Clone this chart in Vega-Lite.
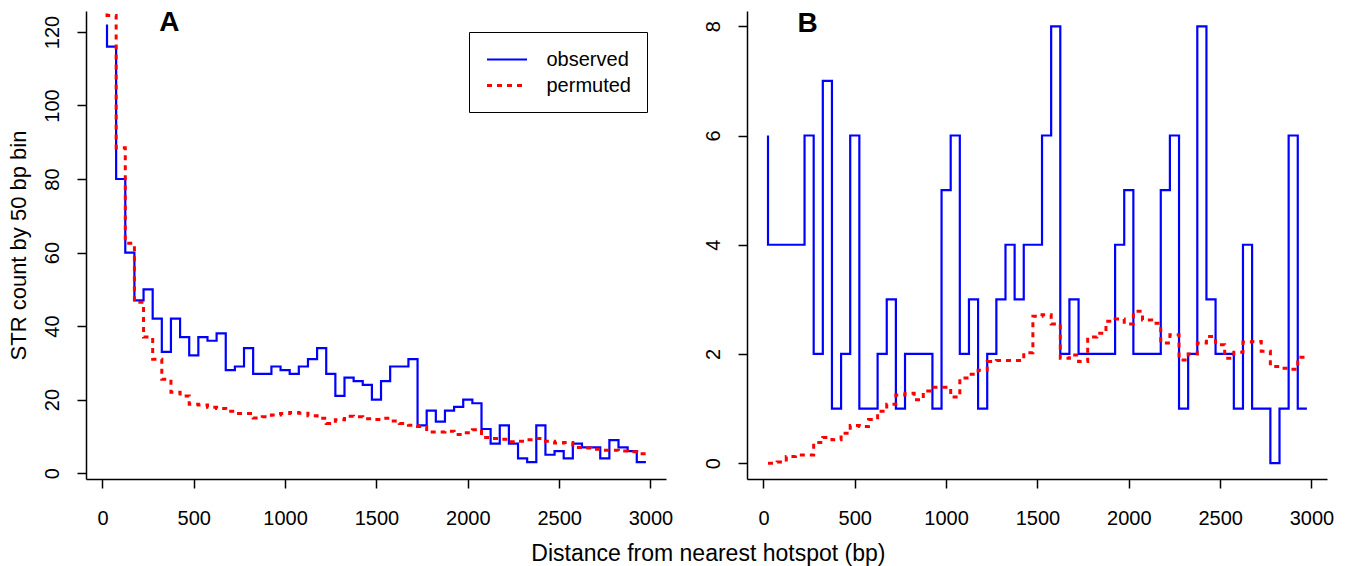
{
  "$schema": "https://vega.github.io/schema/vega-lite/v6.json",
  "background": "white",
  "padding": {"left": 7, "top": 7, "right": 5, "bottom": 5},
  "datasets": {
    "a": [
      {"x":25,"observed":122,"permuted":125},{"x":75,"observed":116,"permuted":124.5},{"x":125,"observed":80,"permuted":88.5},{"x":175,"observed":60,"permuted":62.5},{"x":225,"observed":47,"permuted":46.5},
      {"x":275,"observed":50,"permuted":37},{"x":325,"observed":42,"permuted":31},{"x":375,"observed":33,"permuted":25.5},{"x":425,"observed":42,"permuted":22},{"x":475,"observed":37,"permuted":21},
      {"x":525,"observed":32,"permuted":18.7},{"x":575,"observed":37,"permuted":18.5},{"x":625,"observed":36,"permuted":17.9},{"x":675,"observed":38,"permuted":17.6},{"x":725,"observed":28,"permuted":16.8},
      {"x":775,"observed":29,"permuted":16.2},{"x":825,"observed":34,"permuted":16.2},{"x":875,"observed":27,"permuted":15},{"x":925,"observed":27,"permuted":15.3},{"x":975,"observed":29,"permuted":15.8},
      {"x":1025,"observed":28,"permuted":16.2},{"x":1075,"observed":27,"permuted":16.5},{"x":1125,"observed":29,"permuted":16.3},{"x":1175,"observed":31,"permuted":15.6},{"x":1225,"observed":34,"permuted":14.9},
      {"x":1275,"observed":27,"permuted":13.5},{"x":1325,"observed":21,"permuted":14.5},{"x":1375,"observed":26,"permuted":15.5},{"x":1425,"observed":25,"permuted":15.3},{"x":1475,"observed":24,"permuted":14.8},
      {"x":1525,"observed":20,"permuted":14.6},{"x":1575,"observed":25,"permuted":14.9},{"x":1625,"observed":29,"permuted":14.2},{"x":1675,"observed":29,"permuted":13.5},{"x":1725,"observed":31,"permuted":13.0},
      {"x":1775,"observed":13,"permuted":12.7},{"x":1825,"observed":17,"permuted":11.2},{"x":1875,"observed":14,"permuted":11.2},{"x":1925,"observed":17,"permuted":11.4},{"x":1975,"observed":18,"permuted":10.5},
      {"x":2025,"observed":20,"permuted":11.0},{"x":2075,"observed":19,"permuted":11.8},{"x":2125,"observed":12,"permuted":9.7},{"x":2175,"observed":8,"permuted":9.4},{"x":2225,"observed":13,"permuted":9.2},
      {"x":2275,"observed":8,"permuted":8.5},{"x":2325,"observed":4,"permuted":8.7},{"x":2375,"observed":3,"permuted":9.1},{"x":2425,"observed":13,"permuted":9.4},{"x":2475,"observed":5,"permuted":8.7},
      {"x":2525,"observed":6,"permuted":8.2},{"x":2575,"observed":4,"permuted":8.3},{"x":2625,"observed":8,"permuted":7.0},{"x":2675,"observed":7,"permuted":6.8},{"x":2725,"observed":7,"permuted":6.5},
      {"x":2775,"observed":4,"permuted":6.2},{"x":2825,"observed":9,"permuted":6.2},{"x":2875,"observed":7,"permuted":6.0},{"x":2925,"observed":6,"permuted":5.8},{"x":2975,"observed":3,"permuted":5.3}
    ],
    "b": [
      {"x":25,"observed":6,"permuted":0},{"x":75,"observed":4,"permuted":0},{"x":125,"observed":4,"permuted":0.02},{"x":175,"observed":4,"permuted":0.12},{"x":225,"observed":4,"permuted":0.15},
      {"x":275,"observed":6,"permuted":0.15},{"x":325,"observed":2,"permuted":0.38},{"x":375,"observed":7,"permuted":0.47},{"x":425,"observed":1,"permuted":0.43},{"x":475,"observed":2,"permuted":0.55},
      {"x":525,"observed":6,"permuted":0.69},{"x":575,"observed":1,"permuted":0.67},{"x":625,"observed":1,"permuted":0.8},{"x":675,"observed":2,"permuted":0.95},{"x":725,"observed":3,"permuted":1.08},
      {"x":775,"observed":1,"permuted":1.25},{"x":825,"observed":2,"permuted":1.28},{"x":875,"observed":2,"permuted":1.16},{"x":925,"observed":2,"permuted":1.32},{"x":975,"observed":1,"permuted":1.39},
      {"x":1025,"observed":5,"permuted":1.39},{"x":1075,"observed":6,"permuted":1.21},{"x":1125,"observed":2,"permuted":1.56},{"x":1175,"observed":3,"permuted":1.63},{"x":1225,"observed":1,"permuted":1.7},
      {"x":1275,"observed":2,"permuted":1.86},{"x":1325,"observed":3,"permuted":1.88},{"x":1375,"observed":4,"permuted":1.88},{"x":1425,"observed":3,"permuted":1.88},{"x":1475,"observed":4,"permuted":2.02},
      {"x":1525,"observed":4,"permuted":2.69},{"x":1575,"observed":6,"permuted":2.72},{"x":1625,"observed":8,"permuted":2.55},{"x":1675,"observed":2,"permuted":1.92},{"x":1725,"observed":3,"permuted":1.98},
      {"x":1775,"observed":2,"permuted":1.86},{"x":1825,"observed":2,"permuted":2.31},{"x":1875,"observed":2,"permuted":2.38},{"x":1925,"observed":2,"permuted":2.6},{"x":1975,"observed":4,"permuted":2.64},
      {"x":2025,"observed":5,"permuted":2.55},{"x":2075,"observed":2,"permuted":2.78},{"x":2125,"observed":2,"permuted":2.62},{"x":2175,"observed":2,"permuted":2.56},{"x":2225,"observed":5,"permuted":2.2},
      {"x":2275,"observed":6,"permuted":2.35},{"x":2325,"observed":1,"permuted":1.89},{"x":2375,"observed":2,"permuted":2.0},{"x":2425,"observed":8,"permuted":2.2},{"x":2475,"observed":3,"permuted":2.32},
      {"x":2525,"observed":2,"permuted":2.17},{"x":2575,"observed":2,"permuted":1.92},{"x":2625,"observed":1,"permuted":2.03},{"x":2675,"observed":4,"permuted":2.22},{"x":2725,"observed":1,"permuted":2.23},
      {"x":2775,"observed":1,"permuted":2.05},{"x":2825,"observed":0,"permuted":1.77},{"x":2875,"observed":1,"permuted":1.74},{"x":2925,"observed":6,"permuted":1.72},{"x":2975,"observed":1,"permuted":1.94}
    ]
  },
  "title": {"text": "Distance from nearest hotspot (bp)", "orient": "bottom", "anchor": "middle", "fontSize": 23, "font": "Liberation Sans", "fontWeight": "normal", "color": "black", "offset": 15, "dx": 38},
  "spacing": 81,
  "bounds": "flush",
  "resolve": {"scale": {"color": "independent", "strokeDash": "independent", "strokeWidth": "independent", "x": "independent", "y": "independent"}},
  "config": {
    "view": {"stroke": null},
    "font": "Liberation Sans",
    "axis": {"domainColor": "black", "domainWidth": 1.5, "tickColor": "black", "tickWidth": 1.5, "tickSize": 9, "labelColor": "black", "labelFont": "Liberation Sans", "labelFontSize": 20, "titleFont": "Liberation Sans", "titleFontSize": 22, "titleFontWeight": "normal", "titleColor": "black", "grid": false, "labelFlush": false, "labelOverlap": false},
    "axisX": {"labelPadding": 20, "format": "d"},
    "axisY": {"labelAngle": -90, "labelPadding": 15, "titlePadding": 12, "format": "d"},
    "legend": {"strokeColor": "black", "fillColor": "white", "padding": 16, "symbolOffset": 10.5, "symbolType": "M-2,0H2", "symbolSize": 400, "symbolStrokeWidth": 2.5, "labelFontSize": 20, "labelFont": "Liberation Sans", "labelColor": "black", "labelOffset": 28, "rowPadding": 4}
  },
  "hconcat": [
    {
      "width": 580,
      "height": 468,
      "layer": [
        {
          "data": {"name": "a"},
          "transform": [{"fold": ["observed", "permuted"], "as": ["series", "value"]}],
          "mark": {"type": "line", "interpolate": "step-before"},
          "encoding": {
            "x": {"field": "x", "type": "quantitative", "scale": {"domain": [-90, 3085], "nice": false, "zero": false}, "axis": {"values": [0, 500, 1000, 1500, 2000, 2500, 3000], "title": null}},
            "y": {"field": "value", "type": "quantitative", "scale": {"domain": [-1.6, 125.7], "nice": false, "zero": false}, "axis": {"values": [0, 20, 40, 60, 80, 100, 120], "title": "STR count by 50 bp bin"}},
            "color": {"field": "series", "type": "nominal", "scale": {"domain": ["observed", "permuted"], "range": ["#0000ff", "#ff0000"]}, "legend": {"title": null, "orient": "none", "legendX": 383, "legendY": 21}},
            "strokeDash": {"field": "series", "type": "nominal", "scale": {"domain": ["observed", "permuted"], "range": [[1, 0], [5, 5]]}, "legend": {"title": null, "orient": "none", "legendX": 383, "legendY": 21}},
            "strokeWidth": {"field": "series", "type": "ordinal", "scale": {"domain": ["observed", "permuted"], "range": [2.2, 3]}, "legend": null}
          }
        },
        {
          "data": {"values": [{"label": "A"}]},
          "mark": {"type": "text", "fontSize": 28, "fontWeight": "bold", "font": "Liberation Sans", "baseline": "middle", "align": "center", "color": "black"},
          "encoding": {"x": {"datum": 367}, "y": {"datum": 122.5}, "text": {"field": "label"}}
        }
      ]
    },
    {
      "width": 580,
      "height": 468,
      "layer": [
        {
          "data": {"name": "b"},
          "transform": [{"fold": ["observed", "permuted"], "as": ["series", "value"]}],
          "mark": {"type": "line", "interpolate": "step-before"},
          "encoding": {
            "x": {"field": "x", "type": "quantitative", "scale": {"domain": [-90, 3085], "nice": false, "zero": false}, "axis": {"values": [0, 500, 1000, 1500, 2000, 2500, 3000], "title": null}},
            "y": {"field": "value", "type": "quantitative", "scale": {"domain": [-0.29, 8.28], "nice": false, "zero": false}, "axis": {"values": [0, 2, 4, 6, 8], "title": null}},
            "color": {"field": "series", "type": "nominal", "scale": {"domain": ["observed", "permuted"], "range": ["#0000ff", "#ff0000"]}, "legend": null},
            "strokeDash": {"field": "series", "type": "nominal", "scale": {"domain": ["observed", "permuted"], "range": [[1, 0], [5, 5]]}, "legend": null},
            "strokeWidth": {"field": "series", "type": "ordinal", "scale": {"domain": ["observed", "permuted"], "range": [2.2, 3]}, "legend": null}
          }
        },
        {
          "data": {"values": [{"label": "B"}]},
          "mark": {"type": "text", "fontSize": 28, "fontWeight": "bold", "font": "Liberation Sans", "baseline": "middle", "align": "center", "color": "black"},
          "encoding": {"x": {"datum": 242}, "y": {"datum": 8.05}, "text": {"field": "label"}}
        }
      ]
    }
  ]
}
